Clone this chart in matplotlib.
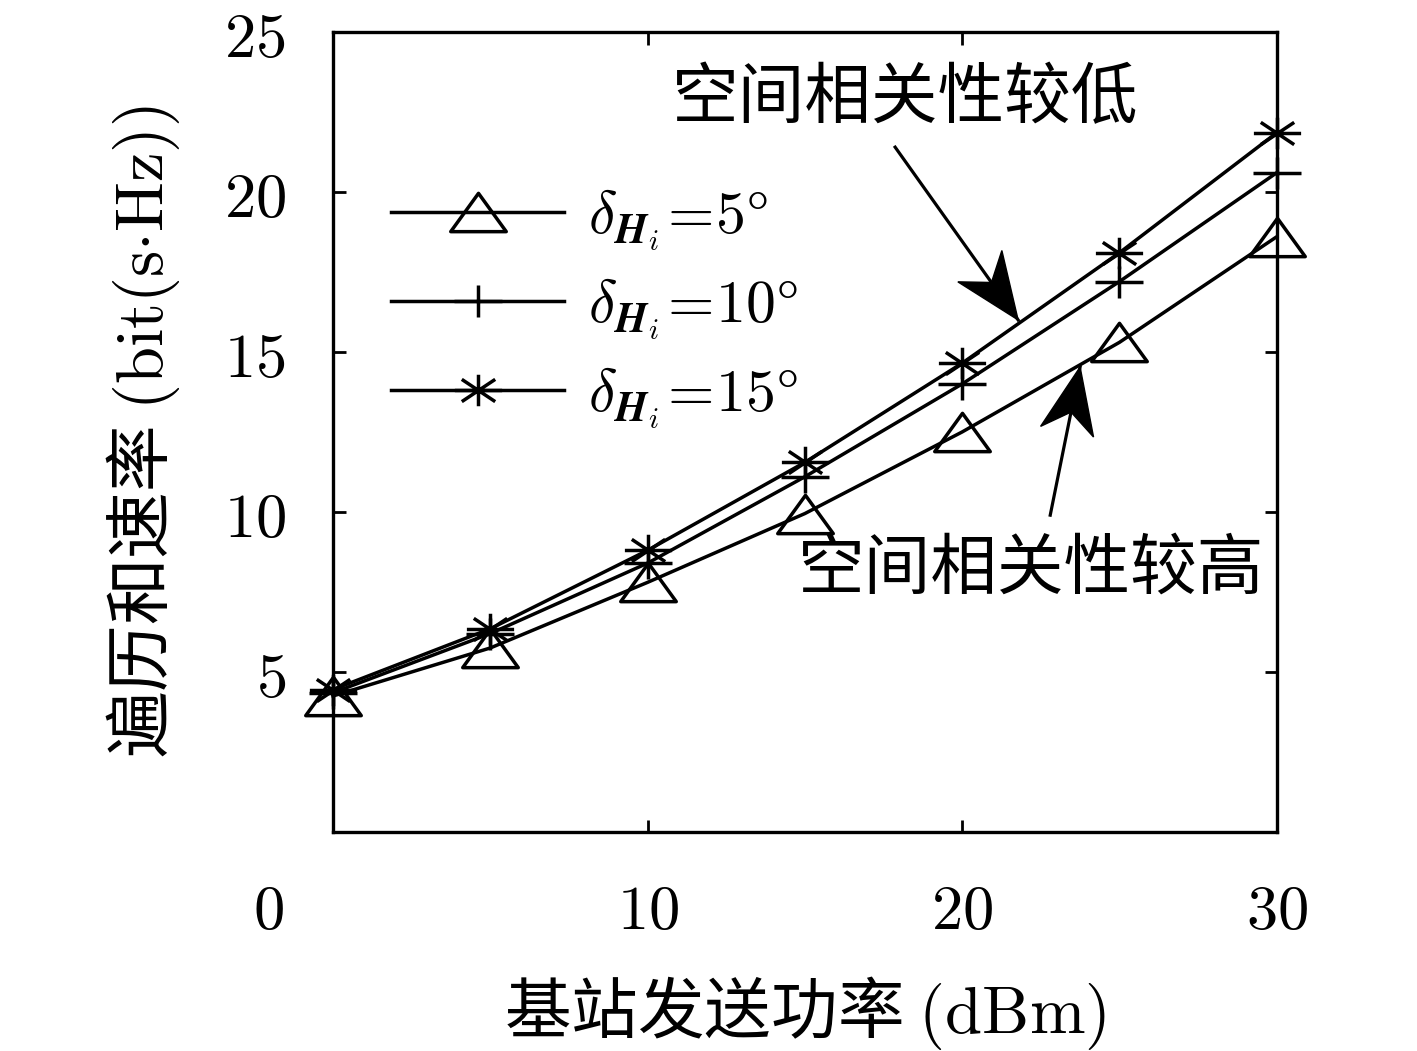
import numpy as np
import matplotlib
matplotlib.use('Agg')
import matplotlib.pyplot as plt
from matplotlib.path import Path
from matplotlib.patches import Polygon
from matplotlib.ticker import FuncFormatter
import matplotlib.transforms as mtransforms

plt.rcParams['font.family'] = ['Noto Sans CJK SC', 'DejaVu Sans']
plt.rcParams['mathtext.fontset'] = 'cm'

# data
power = [0, 5, 10, 15, 20, 25, 30]
rate_5 = [4.25, 5.75, 7.8, 9.95, 12.5, 15.3, 18.6]
rate_10 = [4.35, 6.2, 8.4, 11.1, 14.0, 17.2, 20.6]
rate_15 = [4.45, 6.35, 8.8, 11.55, 14.65, 18.1, 21.85]
labels = [r'$\delta_{\boldsymbol{H}_i}\!=\!5\degree$',
          r'$\delta_{\boldsymbol{H}_i}\!=\!10\degree$',
          r'$\delta_{\boldsymbol{H}_i}\!=\!15\degree$']
xticks = [0, 10, 20, 30]
yticks = [5, 10, 15, 20, 25]

# markers, a bit wider than tall like the original
tri = Path([(0, 1), (-1.45, -1), (1.45, -1), (0, 1)],
           [Path.MOVETO, Path.LINETO, Path.LINETO, Path.CLOSEPOLY])
plus = Path([(-1.5, 0), (1.5, 0), (0, -1), (0, 1)],
            [Path.MOVETO, Path.LINETO, Path.MOVETO, Path.LINETO])
d = 0.707
star = Path([(-1.5, 0), (1.5, 0), (0, -1), (0, 1),
             (-1.5*d, -d), (1.5*d, d), (-1.5*d, d), (1.5*d, -d)],
            [Path.MOVETO, Path.LINETO] * 4)


def arrow(ax, tail, tip, hl=66, hw=27, indent=46):
    # shaft plus a matlab style head with a notched back, sized in pixels
    ax.plot([tail[0], tip[0]], [tail[1], tip[1]], color='k', lw=2.3,
            clip_on=False)
    p0 = ax.transData.transform(tail)
    p1 = ax.transData.transform(tip)
    u = (p1 - p0) / np.hypot(*(p1 - p0))
    n = np.array([-u[1], u[0]])
    pts = [p1, p1 - hl*u + hw*n, p1 - indent*u, p1 - hl*u - hw*n]
    ax.add_patch(Polygon(pts, closed=True, color='k', transform=None,
                         clip_on=False))


fig = plt.figure(figsize=(14.17, 10.51), dpi=100)
ax = fig.add_axes([0.235, 0.2084, 0.666, 0.7612])

lw = 2.5
ax.plot(power, rate_5, color='k', lw=lw, marker=tri, ms=40, mfc='none',
        mec='k', mew=lw, label=labels[0], clip_on=False)
ax.plot(power, rate_10, color='k', lw=lw, marker=plus, ms=34, mfc='none',
        mec='k', mew=lw, label=labels[1], clip_on=False)
ax.plot(power, rate_15, color='k', lw=lw, marker=star, ms=34, mfc='none',
        mec='k', mew=lw, label=labels[2], clip_on=False)

ax.set_xlim(0, 30)
ax.set_ylim(0, 25)
ax.set_xticks(xticks)
ax.set_yticks(yticks)
fmt = FuncFormatter(lambda v, p: r'$%d$' % v)
ax.xaxis.set_major_formatter(fmt)
ax.yaxis.set_major_formatter(fmt)
ax.tick_params(direction='in', length=9, width=2, labelsize=45,
               top=True, right=True)
ax.tick_params(axis='x', pad=34)
ax.tick_params(axis='y', pad=34)
for s in ax.spines.values():
    s.set_linewidth(2.4)

# the "0" label sits left of the axis in the original
lab0 = ax.get_xticklabels()[0]
lab0.set_transform(lab0.get_transform() +
                   mtransforms.ScaledTranslation(-0.65, 0, fig.dpi_scale_trans))

ax.set_xlabel(r'基站发送功率 $(\mathrm{dBm})$', fontsize=48, labelpad=22)
ax.set_ylabel(r'遍历和速率 $(\mathrm{bit(s{\cdot}Hz))}$', fontsize=48,
              labelpad=30)

leg = ax.legend(loc='upper left', bbox_to_anchor=(0.03, 0.845), frameon=False,
                fontsize=43, handlelength=2.9, labelspacing=0.38,
                handletextpad=0.4, borderpad=0)

# annotations
ax.text(18.2, 22.9, '空间相关性较低', fontsize=48, ha='center', va='center')
arrow(ax, (17.87, 21.4), (21.78, 16.0))
ax.text(22.2, 8.19, '空间相关性较高', fontsize=48, ha='center', va='center')
arrow(ax, (22.8, 9.9), (23.75, 14.53))

fig.savefig('out.png', dpi=100)
